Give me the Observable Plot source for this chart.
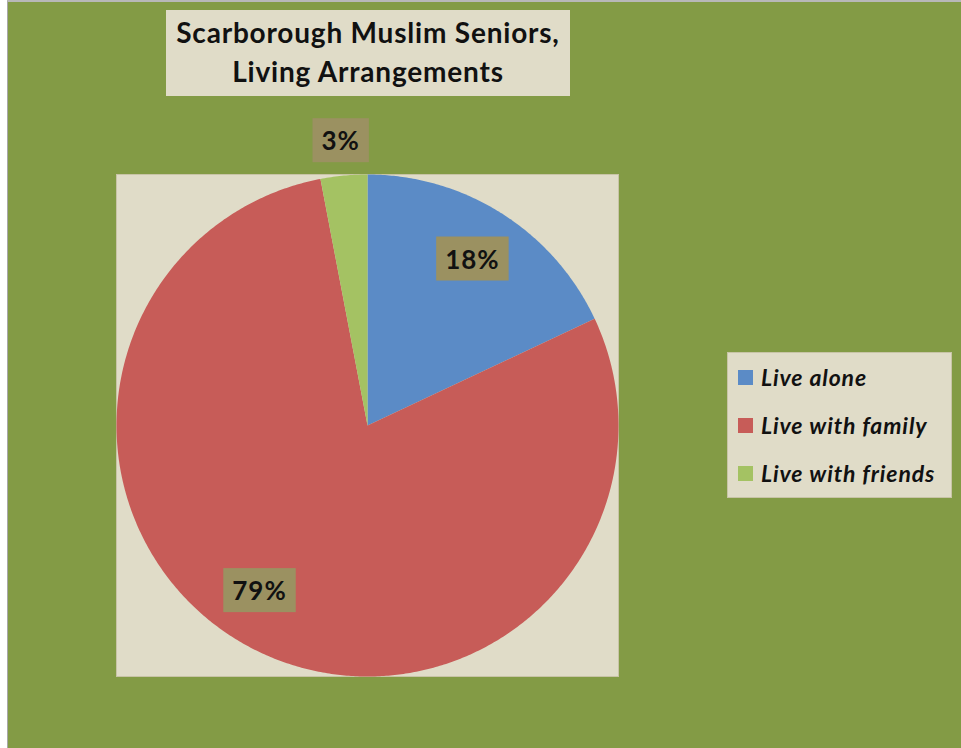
<!DOCTYPE html>
<html>
<head>
<meta charset="utf-8">
<script src="https://cdn.jsdelivr.net/npm/d3@7"></script>
<script src="https://cdn.jsdelivr.net/npm/@observablehq/plot@0.6"></script>
<style>
  html, body { margin: 0; padding: 0; background: #ffffff; }
  #wrap {
    position: absolute; left: 7px; top: 0; width: 954px; height: 746px;
    border-left: 1px solid #a8a8a8; border-top: 2px solid #b8b8b8; border-bottom: 2px solid #a0a0a0;
    background: #839b45; overflow: hidden;
  }
  #chart { position: absolute; left: -8px; top: -2px; }
  #title {
    position: absolute; left: 158px; top: 8px; width: 404px; height: 86px;
    background: #e0dcc8; box-sizing: border-box;
    font-family: Lato, "Open Sans", sans-serif; font-weight: bold; font-size: 28px;
    letter-spacing: 0.8px; line-height: 39px; text-align: center; color: #111; padding-top: 3px;
    white-space: nowrap;
  }
  #legend {
    position: absolute; left: 719px; top: 350px; width: 225px; height: 146px;
    background: #e0dcc8; box-sizing: border-box; border: 1px solid #c8c4a6;
    font-family: Lato, "Open Sans", sans-serif; font-weight: bold; font-style: italic; font-size: 23px;
    letter-spacing: 0.9px; color: #111; padding: 0 0 0 10px; white-space: nowrap;
  }
  .item { height: 48px; display: flex; align-items: center; }
  .sw { width: 15px; height: 15px; margin-right: 8px; flex: none; }
</style>
</head>
<body>
<div id="wrap">
  <div id="chart"></div>
  <div id="title">Scarborough Muslim Seniors,<br>Living Arrangements</div>
  <div id="legend"></div>
</div>
<script>
const categories = ["Live alone", "Live with family", "Live with friends"];
const values = [18, 79, 3];
const labels = ["18%", "79%", "3%"];
const colors = ["#5b8bc6", "#c75c58", "#a4c263"];

// label placement (radius fraction, angle offset in degrees) — Excel "best fit"
const labelPlacement = [
  {r: 0.78, da: 0},
  {r: 0.79, da: 6},
  {r: 1.135, da: 0}
];

const table = categories.map((c, i) => ({category: c, value: values[i], label: labels[i]}));
const arcs = d3.pie().value(d => d.value).sort(null)(table);

// polygon outline for each slice in unit-circle coordinates
const slicePoints = [];
arcs.forEach(a => {
  const n = Math.max(2, Math.ceil((a.endAngle - a.startAngle) / (Math.PI / 360)));
  slicePoints.push({category: a.data.category, x: 0, y: 0});
  for (let k = 0; k <= n; k++) {
    const t = a.startAngle + (a.endAngle - a.startAngle) * k / n;
    slicePoints.push({category: a.data.category, x: Math.sin(t), y: Math.cos(t)});
  }
  slicePoints.push({category: a.data.category, x: 0, y: 0});
});

const labelPoints = arcs.map((a, i) => {
  const p = labelPlacement[i];
  const mid = (a.startAngle + a.endAngle) / 2 + p.da * Math.PI / 180;
  return {label: a.data.label, x: p.r * Math.sin(mid), y: p.r * Math.cos(mid)};
});

const W = 961, H = 748;
const plot = Plot.plot({
  width: W, height: H,
  marginLeft: 116, marginRight: W - 618, marginTop: 174, marginBottom: H - 676,
  x: {domain: [-1, 1], axis: null},
  y: {domain: [-1, 1], axis: null},
  color: {domain: categories, range: colors},
  style: {background: "transparent", overflow: "visible"},
  marks: [
    Plot.frame({fill: "#e0dcc8", stroke: "#c8c4a6"}),
    Plot.line(slicePoints, {x: "x", y: "y", z: "category", fill: "category", stroke: "none", curve: "linear"}),
    Plot.text(labelPoints, {
      x: "x", y: "y", text: "label",
      fontSize: 26, fontWeight: "bold", fill: "#111",
      fontFamily: "Lato, 'Open Sans', sans-serif"
    })
  ]
});
document.getElementById("chart").appendChild(plot);

// boxes behind the percentage labels
d3.select(plot).selectAll('g[aria-label="text"] text').each(function() {
  this.setAttribute("letter-spacing", "1px");
  const b = this.getBBox();
  const padX = 9, padY = 7;
  const el = this;
  const r = d3.select(el.parentNode).insert("rect", () => el)
    .attr("x", b.x - padX).attr("y", b.y - padY + 1)
    .attr("width", b.width + 2 * padX).attr("height", b.height + 2 * padY - 2)
    .attr("fill", "#9b9161");
  const tr = el.getAttribute("transform");
  if (tr) r.attr("transform", tr);
});

// legend
const lg = d3.select("#legend");
categories.forEach((c, i) => {
  const it = lg.append("div").attr("class", "item");
  it.append("div").attr("class", "sw").style("background", colors[i]);
  it.append("span").text(c);
});
</script>
</body>
</html>
